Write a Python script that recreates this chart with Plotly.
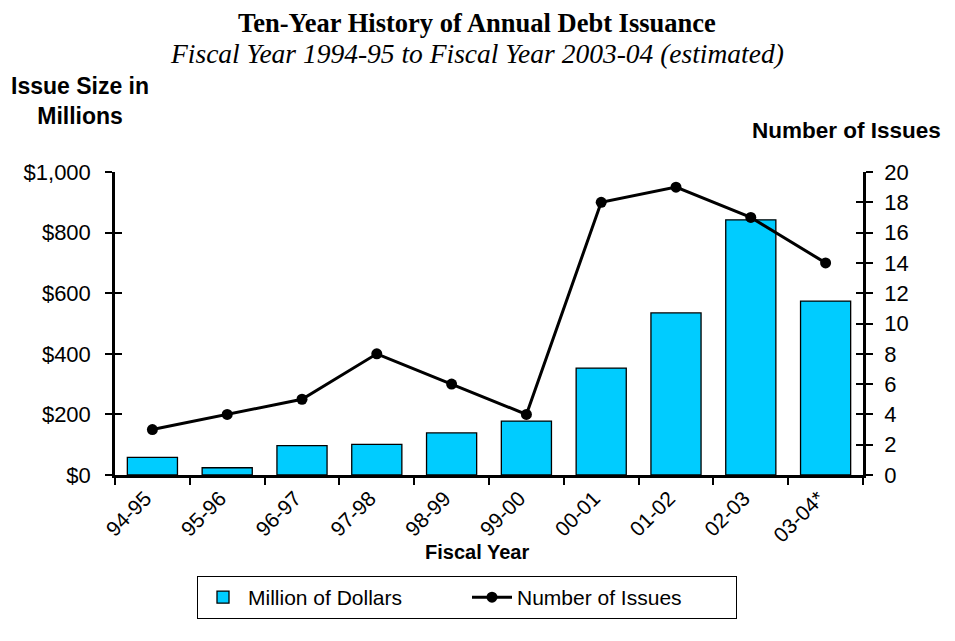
import plotly.graph_objects as go

years = ["94-95", "95-96", "96-97", "97-98", "98-99", "99-00", "00-01", "01-02", "02-03", "03-04*"]
dollars = [58, 24, 97, 101, 139, 178, 353, 535, 842, 574]
issues = [3, 4, 5, 8, 6, 4, 18, 19, 17, 14]
left_ticks = [0, 200, 400, 600, 800, 1000]
left_labels = ["$0", "$200", "$400", "$600", "$800", "$1,000"]
right_ticks = list(range(0, 21, 2))

FONT = "Liberation Sans, Arial, sans-serif"
SERIF = "Liberation Serif, Times New Roman, serif"

# page offset (body margin) compensation
OFF = 8
W, H = 955 - OFF, 641 - OFF
L, T = 115 - OFF, 172 - OFF
B = H - T - (475 - 172)
R = W - L - (863 - 115)

fig = go.Figure()
fig.add_trace(go.Bar(
    x=years, y=dollars, name="Million of Dollars",
    marker=dict(color="#00CCFF", line=dict(color="black", width=1.3)),
    yaxis="y",
))
fig.add_trace(go.Scatter(
    x=years, y=issues, name="Number of Issues", mode="lines+markers",
    line=dict(color="black", width=3),
    marker=dict(color="black", size=11),
    yaxis="y2",
))
fig.add_trace(go.Scatter(x=[years[0]], y=[None], yaxis="y3", showlegend=False, hoverinfo="skip"))
fig.add_trace(go.Scatter(x=[years[0]], y=[None], yaxis="y4", showlegend=False, hoverinfo="skip"))

pw = W - L - R
ph = H - T - B
def px(x):
    return (x - OFF - L) / pw
def py(y):
    return (H - B - (y - OFF)) / ph

def ann(text, x, y, size, family=FONT):
    return dict(text=text, x=px(x), y=py(y), xref="paper", yref="paper",
                showarrow=False, xanchor="center", yanchor="middle", align="center",
                font=dict(family=family, size=size))

fig.update_layout(
    width=W, height=H,
    paper_bgcolor="white", plot_bgcolor="white",
    margin=dict(l=L, r=R, t=T, b=B, autoexpand=False),
    font=dict(family=FONT, size=22, color="black"),
    bargap=0.33,
    showlegend=True,
    legend=dict(
        orientation="h", x=px(467), xanchor="center", y=py(576), yanchor="top",
        bordercolor="black", borderwidth=1, bgcolor="white",
        font=dict(family=FONT, size=21), entrywidth=214, itemwidth=40,
    ),
    xaxis=dict(
        type="category", range=[-0.5, 9.5],
        showline=True, linecolor="black", linewidth=2.5,
        ticks="outside", tickson="boundaries", ticklen=7, tickwidth=2, tickcolor="black",
        tickangle=-45, tickfont=dict(family=FONT, size=21), ticklabelshift=-7,
        showgrid=False, zeroline=False,
    ),
    yaxis=dict(
        range=[0, 1000], tickvals=left_ticks, ticktext=left_labels,
        showline=True, linecolor="black", linewidth=2.5,
        ticks="outside", ticklen=7, tickwidth=2, tickcolor="black", ticklabelstandoff=10,
        showgrid=False, zeroline=False, tickfont=dict(family=FONT, size=22),
    ),
    yaxis2=dict(
        range=[0, 20], tickvals=right_ticks, overlaying="y", side="right",
        showline=True, linecolor="black", linewidth=2.5,
        ticks="outside", ticklen=7, tickwidth=2, tickcolor="black", ticklabelstandoff=7,
        showgrid=False, zeroline=False, tickfont=dict(family=FONT, size=22),
    ),
    yaxis3=dict(
        range=[0, 1000], tickvals=left_ticks, overlaying="y", side="left",
        ticks="inside", ticklen=7, tickwidth=2, tickcolor="black",
        showticklabels=False, showgrid=False, zeroline=False, showline=False,
    ),
    yaxis4=dict(
        range=[0, 20], tickvals=right_ticks, overlaying="y", side="right",
        ticks="inside", ticklen=7, tickwidth=2, tickcolor="black",
        showticklabels=False, showgrid=False, zeroline=False, showline=False,
    ),
    annotations=[
        ann("<b>Ten-Year History of Annual Debt Issuance</b>", 477, 23, 26.5, SERIF),
        ann("<i>Fiscal Year 1994-95 to Fiscal Year 2003-04 (estimated)</i>", 477, 53, 27.5, SERIF),
        ann("<b>Issue Size in<br>Millions</b>", 80, 101, 23),
        ann("<b>Number of Issues</b>", 846, 130, 22.5),
        ann("<b>Fiscal Year</b>", 477, 552, 20),
    ],
)

fig.write_html("out.html")
